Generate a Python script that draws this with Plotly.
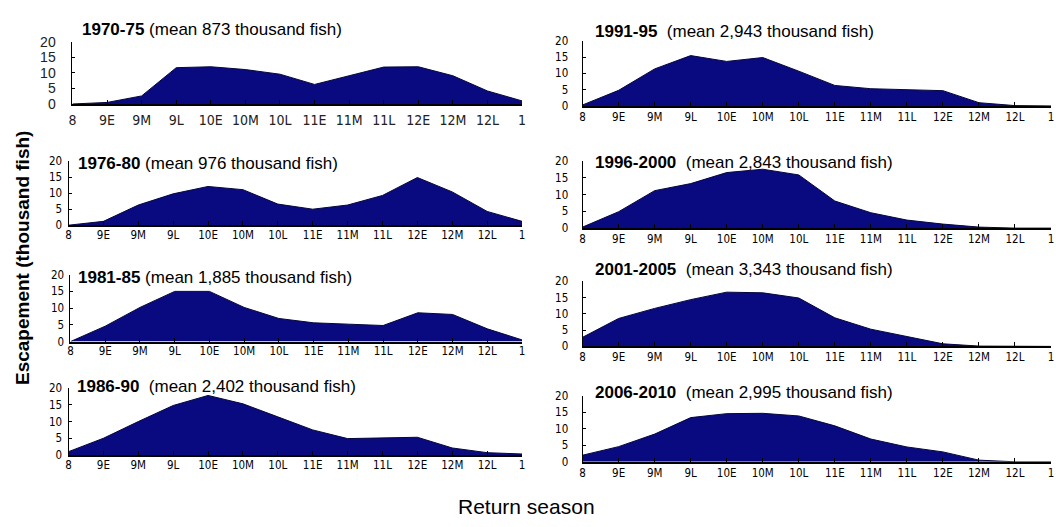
import plotly.graph_objects as go

W, H = 1056, 527

categories = ["8", "9E", "9M", "9L", "10E", "10M", "10L", "11E", "11M", "11L", "12E", "12M", "12L", "1"]

periods = ["1970-75", "1991-95", "1976-80", "1996-2000", "1981-85", "2001-2005", "1986-90", "2006-2010"]
means = ["873", "2,943", "976", "2,843", "1,885", "3,343", "2,402", "2,995"]

esc_1970_75 = [0, 0.5, 2.6, 11.7, 12.0, 11.1, 9.6, 6.3, 9.1, 11.9, 12.0, 9.1, 4.2, 1.0]
esc_1976_80 = [0, 1.2, 6.3, 9.8, 12.1, 11.1, 6.6, 5.0, 6.3, 9.3, 14.9, 10.4, 4.3, 1.2]
esc_1981_85 = [0, 4.6, 10.2, 15.0, 15.0, 10.2, 6.9, 5.6, 5.2, 4.8, 8.6, 8.1, 3.8, 0.5]
esc_1986_90 = [1.0, 5.0, 10.0, 14.8, 17.8, 15.3, 11.4, 7.5, 4.9, 5.1, 5.3, 2.1, 0.7, 0.3]
esc_1991_95 = [0.3, 4.8, 11.4, 15.5, 13.7, 14.9, 10.7, 6.3, 5.3, 4.9, 4.7, 1.0, 0.1, 0]
esc_1996_2000 = [0.3, 4.9, 11.2, 13.3, 16.6, 17.6, 15.9, 8.1, 4.6, 2.4, 1.2, 0.3, 0, 0]
esc_2001_2005 = [2.8, 8.6, 11.7, 14.4, 16.7, 16.5, 14.9, 8.8, 5.3, 3.0, 0.8, 0.1, 0, 0]
esc_2006_2010 = [2.0, 4.6, 8.4, 13.4, 14.6, 14.7, 13.9, 10.9, 6.9, 4.5, 3.0, 0.5, 0, 0]

y_ticks = [0, 5, 10, 15, 20]

series = [esc_1970_75, esc_1991_95, esc_1976_80, esc_1996_2000,
          esc_1981_85, esc_2001_2005, esc_1986_90, esc_2006_2010]

# pixel boxes: (left, right, top, bottom)
boxes = [
    (69, 522, 35, 99),
    (583, 1055, 34, 101),
    (65, 522, 158, 224),
    (583, 1055, 158, 227),
    (67, 522, 275, 344),
    (583, 1055, 282, 349),
    (65, 522, 392, 461),
    (583, 1055, 400, 468),
]
title_pos = [(77, 22), (593, 24), (73, 160), (593, 159), (73, 278), (593, 270), (72, 390), (593, 397)]

FILL = "#0A0A80"
EDGE = "#06063F"
NARROW = "Liberation Sans Narrow, Arial Narrow, DejaVu Sans Condensed, sans-serif"
SANS = "Liberation Sans, Arial, sans-serif"

fig = go.Figure()
layout = dict(width=W, height=H, margin=dict(l=0, r=0, t=0, b=0),
              paper_bgcolor="white", plot_bgcolor="white", showlegend=False)
annotations = []

for i, (vals, box) in enumerate(zip(series, boxes)):
    n = i + 1
    xa = "x" if n == 1 else f"x{n}"
    ya = "y" if n == 1 else f"y{n}"
    fig.add_trace(go.Scatter(x=categories, y=vals, mode="lines", fill="tozeroy",
                             fillcolor=FILL, line=dict(color=EDGE, width=1),
                             xaxis=xa, yaxis=ya, hoverinfo="skip"))
    l, r, t, b = box
    first = (i == 0)
    right_col = (i % 2 == 1)
    xkey = "xaxis" if n == 1 else f"xaxis{n}"
    ykey = "yaxis" if n == 1 else f"yaxis{n}"
    layout[xkey] = dict(
        domain=[l / W, r / W], anchor=ya, type="category", range=[0, 13],
        showgrid=False, zeroline=False, showline=True, linecolor="black", linewidth=2,
        ticks="inside", ticklen=4, tickcolor="black", tickwidth=1,
        tickfont=dict(family=NARROW, size=14 if first else 11.5,
                      color="#222" if first else "black"),
        ticklabelstandoff=2 if first else (-1 if right_col else -2),
        fixedrange=True,
    )
    layout[ykey] = dict(
        domain=[1 - b / H, 1 - t / H], anchor=xa, range=[0, 20],
        tickvals=y_ticks, showgrid=False, zeroline=False, showline=True,
        linecolor="black", linewidth=1, ticks="inside", ticklen=3, tickcolor="black",
        tickfont=dict(family=SANS if first else NARROW, size=14 if first else 11.5,
                      color="#222" if first else "black"),
        ticklabelstandoff=13 if first else (11 if right_col else 3),
        fixedrange=True,
    )
    tx, ty = title_pos[i]
    sep = " " if i in (0, 2, 4) else "\u00a0\u00a0"
    annotations.append(dict(
        text=f"<b>{periods[i]}</b>{sep}(mean {means[i]} thousand fish)",
        x=tx / W, y=1 - ty / H, xref="paper", yref="paper",
        xanchor="left", yanchor="middle", showarrow=False,
        font=dict(family=SANS, size=17, color="black"),
    ))

annotations.append(dict(
    text="<b>Escapement (thousand fish)</b>", textangle=-90,
    x=18 / W, y=1 - 258 / H, xref="paper", yref="paper",
    xanchor="center", yanchor="middle", showarrow=False,
    font=dict(family=SANS, size=19, color="black"),
))
annotations.append(dict(
    text="Return season",
    x=526 / W, y=1 - 514 / H, xref="paper", yref="paper",
    xanchor="center", yanchor="middle", showarrow=False,
    font=dict(family=SANS, size=21, color="black"),
))
layout["annotations"] = annotations
fig.update_layout(**layout)
fig.write_html("out.html", config={"displayModeBar": False})
